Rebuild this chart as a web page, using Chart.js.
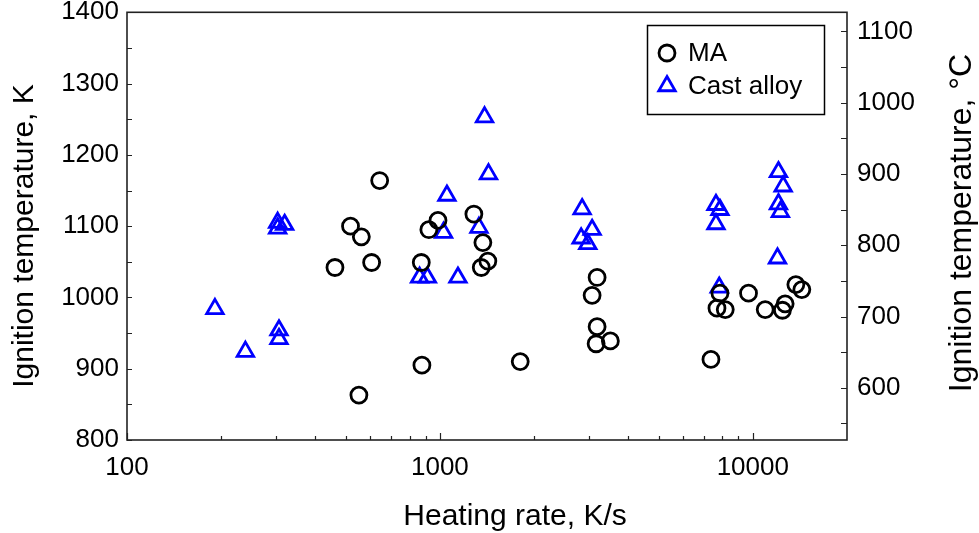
<!DOCTYPE html>
<html>
<head>
<meta charset="utf-8">
<title>Ignition temperature vs heating rate</title>
<script src="https://cdn.jsdelivr.net/npm/chart.js@4/dist/chart.umd.min.js"></script>
<style>
  html, body { margin: 0; padding: 0; background: #ffffff; }
  #wrap { width: 979px; height: 533px; }
</style>
</head>
<body>
<div id="wrap"><canvas id="chart" width="979" height="533"></canvas></div>
<script>
// Heating rate (K/s) and ignition temperature (K) for the MA powder
const maRate = [462, 518, 561, 605, 642, 551, 872, 922, 986, 1284, 1372, 1423, 1356, 876, 1806,
                3180, 3065, 3180, 3157, 3506, 7349, 7852, 7682, 8165, 9690, 10955, 12436, 12686, 13728, 14345];
const maTempK = [1042, 1100, 1085, 1049, 1164, 863, 1049, 1095, 1108, 1117, 1077, 1051, 1042, 905, 910,
                 1028, 1003, 959, 935, 939, 913, 1006, 985, 983, 1006, 983, 982, 991, 1018, 1011];

// Heating rate (K/s) and ignition temperature (K) for the cast alloy
const castRate = [191, 239, 306, 306, 303, 319, 303, 1389, 1430, 1053, 1027, 1333, 861, 912, 1142,
                  2848, 3065, 2827, 2969, 7625, 7852, 7625, 7810, 12078, 12503, 12078, 12250, 11991];
const castTempK = [984, 924, 954, 942, 1105, 1102, 1097, 1253, 1173, 1143, 1091, 1098, 1028, 1028, 1028,
                   1124, 1095, 1083, 1075, 1130, 1123, 1103, 1014, 1176, 1156, 1131, 1120, 1055];

// Axis ticks
const rateTicks = [100, 1000, 10000];
const rateMinorTicks = [200, 300, 400, 500, 600, 700, 800, 900, 2000, 3000, 4000, 5000, 6000, 7000, 8000, 9000];
const kelvinTicks = [800, 900, 1000, 1100, 1200, 1300, 1400];
const kelvinMinorTicks = [850, 950, 1050, 1150, 1250, 1350];
const celsiusTicks = [600, 700, 800, 900, 1000, 1100];
const celsiusMinorTicks = [550, 650, 750, 850, 950, 1050];
const KELVIN_OFFSET = 273.15;

// Axis titles
const xTitle = 'Heating rate, K/s';
const yTitle = 'Ignition temperature, K';
const y2Title = 'Ignition temperature, \u00B0C';

const FONT = "'Liberation Sans', Arial, Helvetica, sans-serif";
const AXIS_COLOR = '#222222';

function toPoints(xs, ys) {
  return xs.map((x, i) => ({ x: x, y: ys[i] }));
}

function fixedTicks(values) {
  return function (scale) {
    scale.ticks = values.map(v => ({ value: v }));
  };
}

function fixedSize(prop, size) {
  return function (scale) {
    scale[prop] = size;
    scale.paddingTop = 0;
    scale.paddingBottom = 0;
    scale.paddingLeft = 0;
    scale.paddingRight = 0;
  };
}

function drawText(ctx, text, x, y, size, angle) {
  ctx.save();
  ctx.fillStyle = '#000000';
  ctx.font = size + 'px ' + FONT;
  ctx.textAlign = 'center';
  ctx.textBaseline = 'middle';
  ctx.translate(x, y);
  ctx.rotate(angle);
  ctx.fillText(text, 0, 0);
  ctx.restore();
}

// Frame, inward tick marks, axis titles and the boxed legend
const decorations = {
  id: 'decorations',
  afterDatasetsDraw(chart) {
    const ctx = chart.ctx;
    const area = chart.chartArea;
    const xs = chart.scales.x, ys = chart.scales.y, ys2 = chart.scales.y2;
    ctx.save();

    // ticks pointing into the plot
    ctx.strokeStyle = AXIS_COLOR;
    ctx.lineWidth = 1.2;
    ctx.beginPath();
    const xTick = (v, len) => {
      const px = Math.round(xs.getPixelForValue(v)) + 0.5;
      ctx.moveTo(px, area.bottom); ctx.lineTo(px, area.bottom - len);
    };
    rateTicks.forEach(v => xTick(v, 7));
    rateMinorTicks.forEach(v => xTick(v, 4));
    const yTick = (scale, v, len, side) => {
      const py = Math.round(scale.getPixelForValue(v)) + 0.5;
      if (side === 'left') { ctx.moveTo(area.left, py); ctx.lineTo(area.left + len, py); }
      else { ctx.moveTo(area.right, py); ctx.lineTo(area.right - len, py); }
    };
    kelvinTicks.forEach(v => yTick(ys, v, 5, 'left'));
    kelvinMinorTicks.forEach(v => yTick(ys, v, 5, 'left'));
    celsiusTicks.forEach(v => yTick(ys2, v, 6, 'right'));
    celsiusMinorTicks.forEach(v => yTick(ys2, v, 6, 'right'));
    ctx.stroke();

    // plot frame
    ctx.lineWidth = 1.6;
    ctx.strokeRect(area.left, area.top, area.right - area.left, area.bottom - area.top);

    // axis titles
    drawText(ctx, xTitle, 515, 517, 30, 0);
    drawText(ctx, yTitle, 25, 236, 30, -Math.PI / 2);
    drawText(ctx, y2Title, 962, 223, 32, -Math.PI / 2);

    // legend box
    const box = { left: 647, top: 25, width: 177, height: 89 };
    ctx.lineWidth = 1.5;
    ctx.strokeStyle = '#000000';
    ctx.strokeRect(box.left + 0.5, box.top + 0.5, box.width, box.height);
    ctx.font = '26px ' + FONT;
    ctx.textAlign = 'left';
    ctx.textBaseline = 'middle';
    chart.data.datasets.forEach((ds, i) => {
      const cy = box.top + 28 + i * 33;
      ctx.strokeStyle = ds.borderColor;
      ctx.fillStyle = 'rgba(0,0,0,0)';
      ctx.lineWidth = ds.borderWidth;
      Chart.helpers.drawPoint(ctx, {
        pointStyle: ds.pointStyle, radius: ds.legendRadius, borderWidth: ds.borderWidth, rotation: 0
      }, box.left + 20, cy);
      ctx.fillStyle = '#000000';
      ctx.fillText(ds.label, box.left + 41, cy + 1);
    });
    ctx.restore();
  }
};

new Chart(document.getElementById('chart'), {
  type: 'scatter',
  data: {
    datasets: [
      {
        label: 'MA',
        data: toPoints(maRate, maTempK),
        pointStyle: 'circle',
        pointRadius: 8,
        legendRadius: 8,
        borderWidth: 2.8,
        borderColor: '#000000',
        backgroundColor: 'rgba(0,0,0,0)',
        yAxisID: 'y'
      },
      {
        label: 'Cast alloy',
        data: toPoints(castRate, castTempK),
        pointStyle: 'triangle',
        pointRadius: 9.5,
        legendRadius: 9.5,
        borderWidth: 2.8,
        borderColor: '#0000ff',
        backgroundColor: 'rgba(0,0,0,0)',
        yAxisID: 'y'
      }
    ]
  },
  options: {
    responsive: false,
    devicePixelRatio: 1,
    animation: false,
    events: [],
    layout: { padding: { top: 12, left: 0, right: 0, bottom: 0 } },
    plugins: { legend: { display: false }, tooltip: { enabled: false } },
    scales: {
      x: {
        type: 'logarithmic',
        position: 'bottom',
        min: 100,
        max: 20000,
        grid: { display: false, drawTicks: false },
        border: { display: false },
        afterBuildTicks: fixedTicks(rateTicks),
        afterFit: fixedSize('height', 93),
        ticks: {
          color: '#000000',
          font: { family: FONT, size: 26 },
          padding: 12,
          maxRotation: 0,
          autoSkip: false,
          callback: v => String(v)
        }
      },
      y: {
        type: 'linear',
        position: 'left',
        min: 800,
        max: 1400,
        grid: { display: false, drawTicks: false },
        border: { display: false },
        afterBuildTicks: fixedTicks(kelvinTicks),
        afterFit: fixedSize('width', 127),
        ticks: {
          color: '#000000',
          font: { family: FONT, size: 26 },
          padding: 8,
          callback: v => String(v)
        }
      },
      y2: {
        type: 'linear',
        position: 'right',
        min: 800 - KELVIN_OFFSET,
        max: 1400 - KELVIN_OFFSET,
        grid: { display: false, drawTicks: false },
        border: { display: false },
        afterBuildTicks: fixedTicks(celsiusTicks),
        afterFit: fixedSize('width', 132),
        ticks: {
          color: '#000000',
          font: { family: FONT, size: 26 },
          padding: 10,
          callback: v => String(v)
        }
      }
    }
  },
  plugins: [decorations]
});
</script>
</body>
</html>
